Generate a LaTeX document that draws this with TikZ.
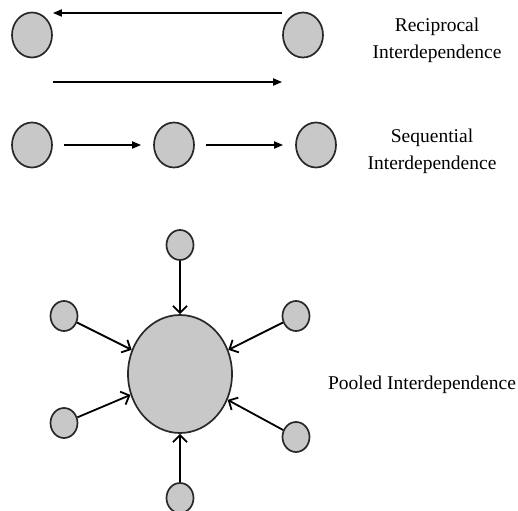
\documentclass[tikz,border=0pt]{standalone}
\usepackage{fontspec}
\setmainfont{Liberation Serif}
\usetikzlibrary{shapes.geometric,arrows.meta}
\definecolor{nodefill}{RGB}{200,200,200}
\definecolor{nodeline}{RGB}{40,40,40}
\begin{document}
\begin{tikzpicture}[x=1pt,y=-1pt,
  unit/.style={ellipse,draw=nodeline,fill=nodefill,line width=1.7pt,inner sep=0pt},
  small/.style={unit,minimum width=40pt,minimum height=45pt},
  tiny/.style={unit,minimum width=27pt,minimum height=30pt},
  big/.style={unit,minimum width=104pt,minimum height=118pt},
  flow/.style={line width=1.7pt,-{Triangle[length=9pt,width=7pt]}},
  pool/.style={line width=1.8pt,-{Straight Barb[length=7pt,width=14pt,line width=1.8pt]}},
  label/.style={align=center,font=\fontsize{19.5}{27}\selectfont}]
\useasboundingbox (0,0) rectangle (518,510);
\clip (0,0) rectangle (518,510);

% reciprocal interdependence
\node[small] (R1) at (32,35) {};
\node[small] (R2) at (303,35) {};
\coordinate (ra) at (0,13);
\coordinate (rb) at (0,82);
\draw[flow] (R2.west |- ra) -- (R1.east |- ra);
\draw[flow] (R1.east |- rb) -- (R2.west |- rb);
\node[label] (Lr) at (437,40) {Reciprocal\\Interdependence};

% sequential interdependence
\node[small] (S1) at (32,145) {};
\node[small] (S2) at (174,145) {};
\node[small] (S3) at (316,145) {};
\draw[flow,shorten <=11pt,shorten >=12pt] (S1) -- (S2);
\draw[flow,shorten <=11pt,shorten >=12pt] (S2) -- (S3);
\node[label] (Ls) at (432,151) {Sequential\\Interdependence};

% pooled interdependence
\node[big] (P) at (180,374) {};
\node[tiny] (P1) at (180,245) {};
\node[tiny] (P2) at (64,316) {};
\node[tiny] (P3) at (296,316) {};
\node[tiny] (P4) at (64,423) {};
\node[tiny] (P5) at (296,437) {};
\node[tiny] (P6) at (180,498) {};
\foreach \n in {P1,P2,P3,P4,P5,P6}
  \draw[pool] (\n) -- (P);
\node[label] (Lp) at (422,385) {Pooled Interdependence};
\end{tikzpicture}
\end{document}
